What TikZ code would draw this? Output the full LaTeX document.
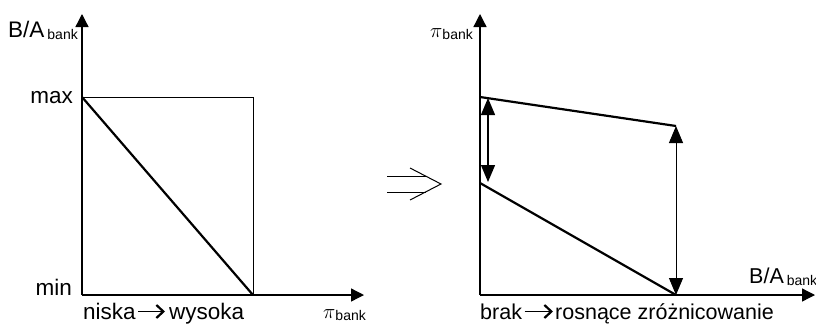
\documentclass[tikz,border=0pt]{standalone}
\usepackage{fontspec}
\setmainfont{Liberation Sans}
\usetikzlibrary{arrows.meta}
\newcommand\bnk{\raisebox{-2pt}{\fontsize{14}{16}\selectfont bank}}
\begin{document}
\begin{tikzpicture}[x=1pt,y=-1pt,
  axis/.style={line width=1.3pt,-{Triangle[length=13pt,width=13pt]}},
  boxline/.style={line width=1pt},
  curve/.style={line width=2.2pt},
  dbl/.style={line width=1.3pt,{Triangle[length=17pt,width=14pt]}-{Triangle[length=17pt,width=14pt]}},
  lbl/.style={inner sep=0pt,font=\fontsize{22.5}{26}\selectfont},
  rlbl/.style={inner sep=0pt,font=\fontsize{21.5}{25}\selectfont},
  txtarrow/.style={line width=1.6pt,-{Straight Barb[length=7pt,width=13pt,line width=2.2pt]}},
  implies/.style={line width=1pt}]
\useasboundingbox (0,0) rectangle (816,325);
% ---- left panel ----
\coordinate (O1) at (82,295);
\coordinate (Y1) at (82,14);
\coordinate (X1) at (364,295);
\coordinate (M1) at (82,97);
\coordinate (TR) at (253,97);
\coordinate (BR) at (253,295);
\draw[boxline] (M1) -- (TR) -- (BR);
\draw[curve] (M1) -- (BR);
\draw[axis] (O1) -- (Y1);
\draw[axis] (O1) -- (X1);
\node[lbl,anchor=base west] (ylab1) at (8,37) {B/A\kern3pt\bnk};
\node[lbl,anchor=base east] (maxl) at (73,103) {max};
\node[lbl,anchor=base east] (minl) at (72,295) {min};
\node[lbl,anchor=base west] (niska) at (83,319.5) {niska};
\node[lbl,anchor=base west] (wysoka) at (169,319.5) {wysoka};
\draw[txtarrow] ([shift={(2.5pt,8pt)}]niska.base east) -- ([shift={(-4pt,8pt)}]wysoka.base west);
\node[lbl,anchor=base west] (xlab1) at (323,318.5) {$\pi$\bnk};
% ---- implication ----
\coordinate (c1) at (410,168);
\coordinate (c2) at (441,184);
\coordinate (c3) at (410,200);
\coordinate (l1) at (387,176);
\coordinate (l2) at (426,176);
\coordinate (l3) at (387,192);
\coordinate (l4) at (426,192);
\draw[implies] (c1) -- (c2) -- (c3);
\draw[implies] (l1) -- (l2);
\draw[implies] (l3) -- (l4);
% ---- right panel ----
\coordinate (O2) at (480,295);
\coordinate (Y2) at (480,14);
\coordinate (X2) at (815,295);
\coordinate (A) at (480,97);
\coordinate (B) at (676,126);
\coordinate (C) at (480,183);
\coordinate (D) at (676,295);
\coordinate (a1) at (488,98);
\coordinate (a2) at (488,182);
\draw[curve] (A) -- (B);
\draw[curve] (C) -- (D);
\draw[dbl] (a1) -- (a2);
\draw[dbl,line width=1pt] (B) -- (D);
\draw[axis] (O2) -- (Y2);
\draw[axis] (O2) -- (X2);
\node[rlbl,anchor=base west] (ylab2) at (430,37) {$\pi$\bnk};
\node[rlbl,anchor=base west] (xlab2) at (749,283) {B/A\kern3pt\bnk};
\node[rlbl,anchor=base west] (brak) at (480,319.5) {brak};
\node[rlbl,anchor=base west] (rosn) at (555,319.5) {rosnące zróżnicowanie};
\draw[txtarrow] ([shift={(2.5pt,8pt)}]brak.base east) -- ([shift={(-2pt,8pt)}]rosn.base west);
\end{tikzpicture}
\end{document}
